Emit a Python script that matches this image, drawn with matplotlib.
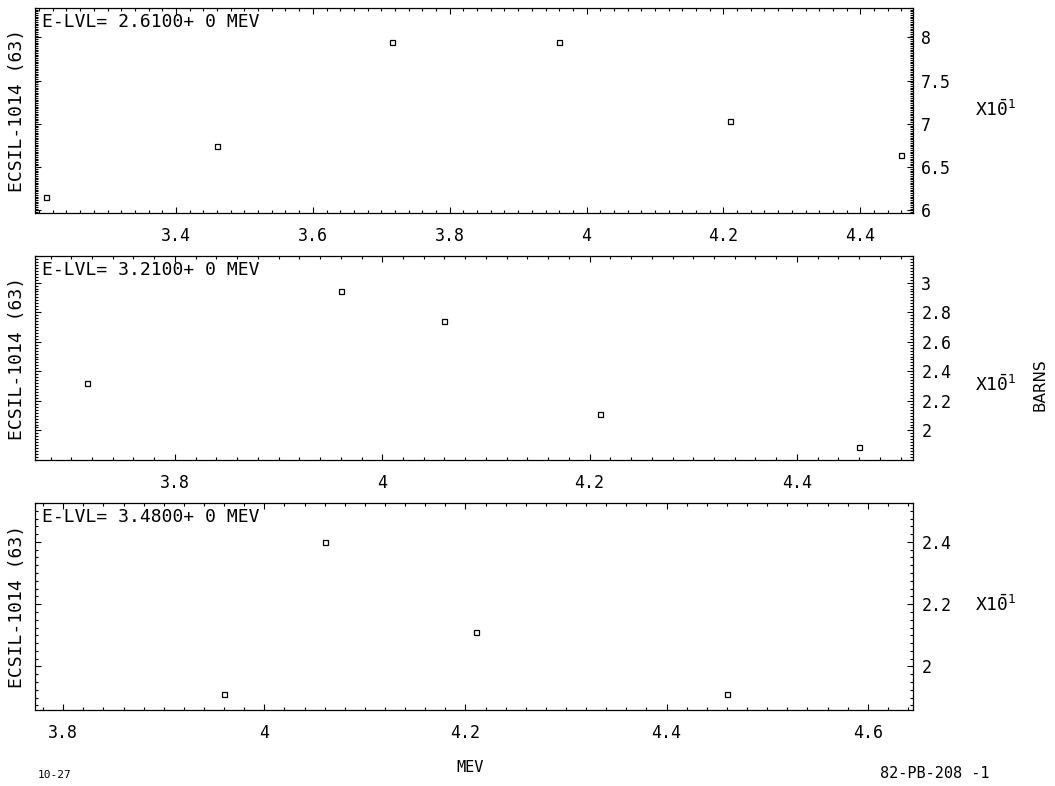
import matplotlib.pyplot as plt
from matplotlib.ticker import MultipleLocator

# ECSIL-1014 (63) cross sections, Pb-208, three excitation levels
levels = ["E-LVL= 2.6100+ 0 MEV", "E-LVL= 3.2100+ 0 MEV", "E-LVL= 3.4800+ 0 MEV"]

e1 = [3.21, 3.46, 3.715, 3.96, 4.21, 4.46]
s1 = [6.15, 6.74, 7.95, 7.95, 7.03, 6.64]

e2 = [3.715, 3.96, 4.06, 4.21, 4.46]
s2 = [2.32, 2.94, 2.74, 2.11, 1.89]

e3 = [3.96, 4.06, 4.21, 4.46]
s3 = [1.91, 2.40, 2.11, 1.91]

xticks1 = [3.4, 3.6, 3.8, 4.0, 4.2, 4.4]
xlabels1 = ["3.4", "3.6", "3.8", "4", "4.2", "4.4"]
yticks1 = [6, 6.5, 7, 7.5, 8]
ylabels1 = ["6", "6.5", "7", "7.5", "8"]

xticks2 = [3.8, 4.0, 4.2, 4.4]
xlabels2 = ["3.8", "4", "4.2", "4.4"]
yticks2 = [2, 2.2, 2.4, 2.6, 2.8, 3]
ylabels2 = ["2", "2.2", "2.4", "2.6", "2.8", "3"]

xticks3 = [3.8, 4.0, 4.2, 4.4, 4.6]
xlabels3 = ["3.8", "4", "4.2", "4.4", "4.6"]
yticks3 = [2, 2.2, 2.4]
ylabels3 = ["2", "2.2", "2.4"]

plt.rcParams['font.family'] = ['DejaVu Sans Mono', 'DejaVu Sans']
plt.rcParams['mathtext.fontset'] = 'dejavusans'

fig = plt.figure(figsize=(10.55, 7.86), dpi=100)

W, H = 1055.0, 786.0
left, right = 35, 913
# (top, bottom) in pixels for each panel
boxes = [(8, 213), (256, 460), (503, 710)]

panels = [
    (e1, s1, (3.194, 4.477), (5.97, 8.34), xticks1, xlabels1, yticks1, ylabels1, 0.02, 0.02),
    (e2, s2, (3.665, 4.512), (1.80, 3.18), xticks2, xlabels2, yticks2, ylabels2, 0.02, 0.02),
    (e3, s3, (3.772, 4.645), (1.86, 2.525), xticks3, xlabels3, yticks3, ylabels3, 0.02, 0.025),
]

mult_y = [110, 385, 605]

for i, (x, y, xl, yl, xt, xtl, yt, ytl, xminor, yminor) in enumerate(panels):
    top, bot = boxes[i]
    ax = fig.add_axes([left / W, 1 - bot / H, (right - left) / W, (bot - top) / H])
    ax.plot(x, y, ls='none', marker='s', ms=3.6, mfc='white', mec='black', mew=0.9)
    ax.set_xlim(xl)
    ax.set_ylim(yl)
    ax.set_xticks(xt)
    ax.set_xticklabels(xtl)
    ax.set_yticks(yt)
    ax.set_yticklabels(ytl)
    ax.xaxis.set_minor_locator(MultipleLocator(xminor))
    ax.yaxis.set_minor_locator(MultipleLocator(yminor))
    ax.tick_params(which='both', direction='in', top=True, bottom=True, left=True, right=True,
                   labelleft=False, labelright=True, width=0.8, color='black')
    ax.tick_params(which='major', length=4.5, labelsize=12, pad=6)
    ax.tick_params(axis='x', which='major', pad=10)
    ax.tick_params(which='minor', length=2)
    for sp in ax.spines.values():
        sp.set_linewidth(0.9)
    ax.text(0.008, 0.975, levels[i], transform=ax.transAxes, ha='left', va='top', fontsize=13)

    fig.text(17 / W, 1 - (top + bot) / 2 / H, "ECSIL-1014 (63)", rotation=90,
             ha='center', va='center', fontsize=13)
    fig.text(975 / W, 1 - mult_y[i] / H, r'X$\mathtt{1}\bar{\mathtt{0}}^{\mathtt{1}}$',
             ha='left', va='center', fontsize=13)

fig.text(1040 / W, 1 - 385 / H, "BARNS", rotation=90, ha='center', va='center',
         fontsize=11, family='DejaVu Sans')
fig.text(470 / W, 1 - 768 / H, "MEV", ha='center', va='center', fontsize=11)
fig.text(55 / W, 1 - 775 / H, "10-27", ha='center', va='center', fontsize=8)
fig.text(935 / W, 1 - 774 / H, "82-PB-208 -1", ha='center', va='center', fontsize=11)

fig.savefig("out.png", dpi=100)
